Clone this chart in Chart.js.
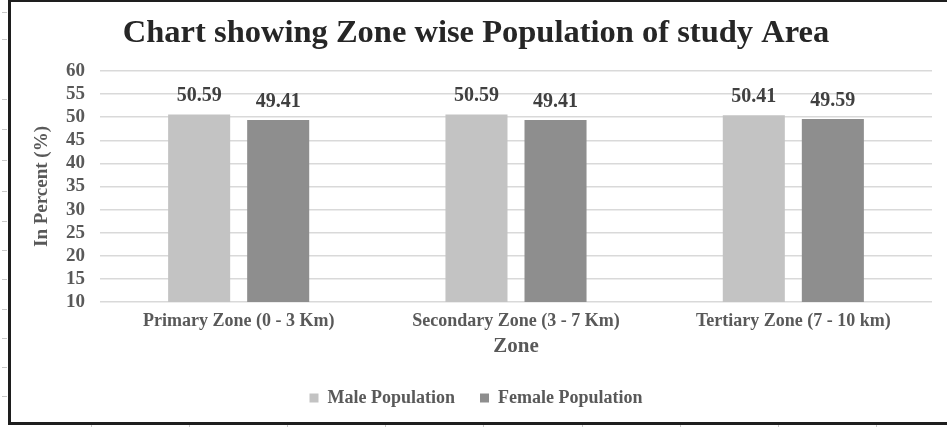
<!DOCTYPE html>
<html>
<head>
<meta charset="utf-8">
<script src="https://cdn.jsdelivr.net/npm/chart.js@4/dist/chart.umd.min.js"></script>
<style>
  html, body { margin: 0; padding: 0; background: #fff; overflow: hidden; }
  #frame {
    position: absolute; left: 8px; top: -1px;
    width: 950px; height: 426px;
    border: 3px solid #1e1e1e;
    box-sizing: border-box;
  }
  #wrap { position: absolute; left: 0; top: 0; width: 947px; height: 427px; }
  .cellmark { position: absolute; background: #c8c8c8; }
</style>
</head>
<body>
<div id="frame"></div>
<div id="wrap"><canvas id="zoneChart"></canvas></div>
<script>
// zone-wise population split
var zones = ['Primary Zone (0 - 3 Km)', 'Secondary Zone (3 - 7 Km)', 'Tertiary Zone (7 - 10 km)'];
var malePct = [50.59, 50.59, 50.41];
var femalePct = [49.41, 49.41, 49.59];
var yTicks = [10, 15, 20, 25, 30, 35, 40, 45, 50, 55, 60];

var serif = "'Liberation Serif', 'Times New Roman', serif";

// faint sheet gridline stubs peeking out around the frame
[12, 39, 99, 129, 160, 191, 221, 250, 279, 309, 338, 367, 396].forEach(function (y) {
  var d = document.createElement('div');
  d.className = 'cellmark';
  d.style.cssText = 'left:2px;top:' + y + 'px;width:5px;height:1px;';
  document.body.appendChild(d);
});
[91, 189, 287, 385, 483, 582, 680, 778, 876].forEach(function (x) {
  var d = document.createElement('div');
  d.className = 'cellmark';
  d.style.cssText = 'left:' + x + 'px;top:425px;width:1px;height:2px;';
  document.body.appendChild(d);
});

// writes each bar's value just above it
var valueLabels = {
  id: 'valueLabels',
  afterDatasetsDraw: function (chart) {
    var ctx = chart.ctx;
    ctx.save();
    ctx.font = 'bold 20px ' + serif;
    ctx.fillStyle = '#404040';
    ctx.textAlign = 'center';
    ctx.textBaseline = 'middle';
    chart.data.datasets.forEach(function (ds, di) {
      chart.getDatasetMeta(di).data.forEach(function (bar, i) {
        ctx.fillText(ds.data[i].toFixed(2), bar.x, bar.y - 18.5);
      });
    });
    ctx.restore();
  }
};

var ctx = document.getElementById('zoneChart').getContext('2d');
var chart = new Chart(ctx, {
  type: 'bar',
  data: {
    labels: zones,
    datasets: [{
      label: 'Male Population',
      data: malePct,
      backgroundColor: '#c3c3c3',
      categoryPercentage: 0.57,
      barPercentage: 0.785
    }, {
      label: 'Female Population',
      data: femalePct,
      backgroundColor: '#8e8e8e',
      categoryPercentage: 0.57,
      barPercentage: 0.785
    }]
  },
  options: {
    responsive: true,
    maintainAspectRatio: false,
    animation: false,
    layout: { padding: { left: 20, right: 15, top: 14, bottom: 10 } },
    plugins: {
      title: {
        display: true,
        text: 'Chart showing Zone wise Population of study Area',
        color: '#262626',
        font: { family: serif, size: 32.5, weight: 'bold' },
        padding: { top: 0, bottom: 18 }
      },
      legend: {
        position: 'bottom',
        labels: {
          color: '#595959',
          font: { family: serif, size: 18, weight: 'bold' },
          boxWidth: 9,
          boxHeight: 9,
          padding: 25
        }
      },
      tooltip: { enabled: false }
    },
    scales: {
      x: {
        afterFit: function (scale) { scale.height = 62; },
        grid: { display: false, drawTicks: false },
        border: { display: false },
        ticks: { color: '#595959', font: { family: serif, size: 18, weight: 'bold' }, padding: 9 },
        title: {
          display: true,
          text: 'Zone',
          color: '#595959',
          font: { family: serif, size: 21, weight: 'bold' },
          padding: { top: 1, bottom: 5 }
        }
      },
      y: {
        min: 10,
        max: 60,
        afterBuildTicks: function (axis) {
          axis.ticks = yTicks.map(function (v) { return { value: v }; });
        },
        afterFit: function (scale) { scale.width = 80; },
        grid: { color: '#d9d9d9', lineWidth: 1.5, drawTicks: false },
        border: { display: false },
        ticks: { autoSkip: false, color: '#595959', font: { family: serif, size: 19, weight: 'bold' }, padding: 15 },
        title: {
          display: true,
          text: 'In Percent (%)',
          color: '#595959',
          font: { family: serif, size: 19, weight: 'bold' },
          padding: { top: 11, bottom: 12 }
        }
      }
    }
  },
  plugins: [valueLabels]
});
</script>
</body>
</html>
